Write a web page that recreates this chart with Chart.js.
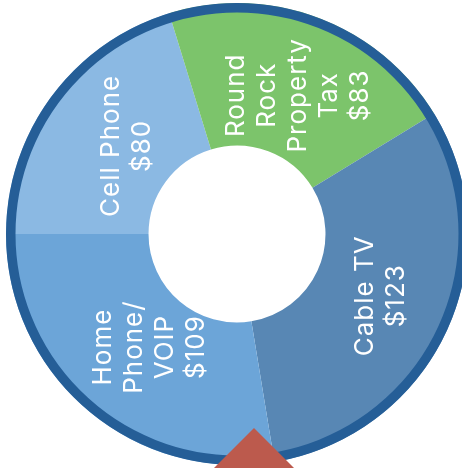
<!DOCTYPE html>
<html>
<head>
<meta charset="utf-8">
<script src="https://cdn.jsdelivr.net/npm/chart.js@4.4.0/dist/chart.umd.min.js"></script>
<style>
  html, body { margin: 0; padding: 0; background: #fff; overflow: hidden; width: 462px; height: 468px; }
  #wrap { position: absolute; left: 6px; top: 3px; width: 462px; height: 462px; }
  #pointer { position: absolute; left: 204px; top: 428px; width: 100px; height: 50px; background: #bc5a4d;
             clip-path: polygon(50% 0, 100% 100%, 0 100%); }
</style>
</head>
<body>
<div id="wrap"><canvas id="budget" width="462" height="462"></canvas></div>
<div id="pointer"></div>
<script>
// Monthly bills
const categories = ['Cell Phone', 'Round Rock Property Tax', 'Cable TV', 'Home Phone/VOIP'];
const amounts = [80, 83, 123, 109];
const nameLines = [['Cell Phone'], ['Round', 'Rock', 'Property', 'Tax'], ['Cable TV'], ['Home', 'Phone/', 'VOIP']];
const sliceColors = ['#8bb9e3', '#7cc46b', '#5887b4', '#6ca5d8'];

const RIM_WIDTH = 9.5;
const RIM_COLOR = '#255e97';
const LABEL_FONT = '400 26px Inter, "Open Sans", sans-serif';
const LABEL_SPACING = '1px';
const LINE_HEIGHT = 31;
const LABEL_RADIUS = 0.45;   // fraction of the coloured band, from the hole outwards
const LABEL_SHIFT_X = 9;

// Dark rim around the wheel plus the rotated slice labels
const rimAndLabels = {
  id: 'rimAndLabels',
  afterDatasetsDraw(chart) {
    const ctx = chart.ctx;
    const arcs = chart.getDatasetMeta(0).data;
    if (!arcs.length) return;
    const { x, y, outerRadius } = arcs[0];

    ctx.save();
    ctx.beginPath();
    ctx.arc(x, y, outerRadius - RIM_WIDTH / 2, 0, Math.PI * 2);
    ctx.lineWidth = RIM_WIDTH;
    ctx.strokeStyle = RIM_COLOR;
    ctx.stroke();
    ctx.restore();

    arcs.forEach((arc, i) => {
      const mid = (arc.startAngle + arc.endAngle) / 2;
      const r = arc.innerRadius + (arc.outerRadius - RIM_WIDTH - arc.innerRadius) * LABEL_RADIUS;
      const px = arc.x + Math.cos(mid) * r + LABEL_SHIFT_X;
      const py = arc.y + Math.sin(mid) * r;
      const lines = nameLines[i].concat('$' + amounts[i]);
      ctx.save();
      ctx.translate(px, py);
      ctx.rotate(-Math.PI / 2);
      ctx.font = LABEL_FONT;
      ctx.letterSpacing = LABEL_SPACING;
      ctx.fillStyle = '#ffffff';
      ctx.textAlign = 'center';
      ctx.textBaseline = 'middle';
      lines.forEach((line, k) => {
        ctx.fillText(line, 0, (k - (lines.length - 1) / 2) * LINE_HEIGHT);
      });
      ctx.restore();
    });
  }
};

new Chart(document.getElementById('budget'), {
  type: 'doughnut',
  data: {
    labels: categories,
    datasets: [{
      data: amounts,
      backgroundColor: sliceColors,
      borderWidth: 0,
      hoverOffset: 0
    }]
  },
  options: {
    responsive: false,
    animation: false,
    events: [],
    rotation: -90,
    cutout: '38.3%',
    layout: { padding: 0 },
    plugins: { legend: { display: false }, tooltip: { enabled: false } }
  },
  plugins: [rimAndLabels]
});
</script>
</body>
</html>
